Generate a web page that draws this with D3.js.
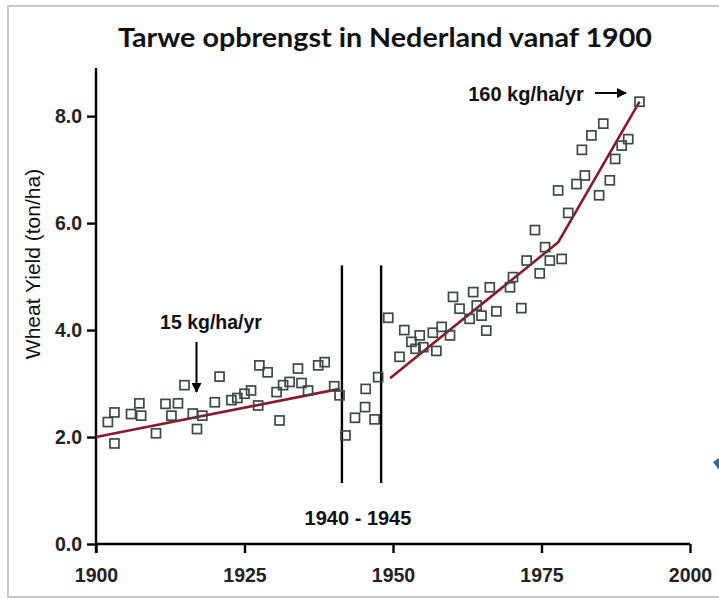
<!DOCTYPE html>
<html><head><meta charset="utf-8">
<script src="https://cdn.jsdelivr.net/npm/d3@7"></script>
<style>
html,body{margin:0;padding:0;background:#fff;}
svg{display:block;}
</style></head>
<body>
<svg id="chart" width="719" height="599"></svg>
<script>
// ---- data ----
const years = [1902.0,1903.1,1903.1,1905.9,1907.3,1907.6,1910.1,1911.7,1912.7,1913.8,1914.9,1916.3,1917.0,1917.9,1920.0,1920.8,1922.8,1923.8,1925.0,1926.1,1927.3,1927.5,1928.9,1930.4,1930.9,1931.5,1932.6,1934.0,1934.6,1935.7,1937.4,1938.5,1940.1,1941.0,1942.0,1943.6,1945.3,1945.4,1946.9,1947.5,1949.2,
1951.1,1951.9,1953.1,1954.5,1955.1,1953.8,1956.7,1957.3,1958.2,1959.6,1960.1,1961.2,1962.9,1963.5,1964.1,1964.9,1965.7,1966.3,1967.4,1969.7,1970.2,1971.6,1972.5,1974.7,1975.6,1976.4,1978.4,1973.9,1979.5,1977.8,1980.9,1982.3,1981.8,1983.4,1985.4,1984.7,1986.5,1987.4,1988.5,1989.6,1991.5];
const yields = [2.28,2.46,1.88,2.43,2.63,2.40,2.07,2.62,2.40,2.63,2.97,2.44,2.15,2.40,2.65,3.13,2.69,2.73,2.81,2.87,2.59,3.34,3.21,2.84,2.31,2.97,3.03,3.28,3.01,2.87,3.34,3.40,2.95,2.78,2.03,2.36,2.56,2.90,2.33,3.12,4.23,
3.50,4.00,3.78,3.90,3.68,3.65,3.95,3.61,4.06,3.90,4.62,4.40,4.21,4.71,4.46,4.27,3.99,4.80,4.35,4.80,4.99,4.41,5.30,5.06,5.55,5.30,5.33,5.87,6.19,6.61,6.73,6.89,7.37,7.64,7.86,6.52,6.80,7.20,7.45,7.57,8.27];
const trend1Years = [1900, 1941.0];
const trend1Values = [2.0, 2.9];
const trend2Years = [1949.5, 1977.8, 1991.5];
const trend2Values = [3.1, 5.64, 8.27];
const warYears = [1941.4, 1948.0];
const warRange = [1.14, 5.21];
const xTicks = [1900, 1925, 1950, 1975, 2000];
const yTicks = [0, 2, 4, 6, 8];
const title = "Tarwe opbrengst in Nederland vanaf 1900";
const yTitle = "Wheat Yield (ton/ha)";

// ---- drawing ----
const svg = d3.select("#chart");
// frame
svg.append("rect").attr("x",8).attr("y",6).attr("width",740).attr("height",591)
  .attr("fill","none").attr("stroke","#c9c9c9").attr("stroke-width",2);

const x = d3.scaleLinear().domain([1900,2000]).range([96,690]);
const y = d3.scaleLinear().domain([0,8.9]).range([544,68]);

const numFont = "'Liberation Sans', Arial, sans-serif";

// title
const t = svg.append("text").attr("x",385).attr("y",47).attr("text-anchor","middle")
  .attr("font-family","Lato, 'Open Sans', sans-serif").attr("font-weight",700)
  .attr("font-size",27).attr("fill","#111").text(title);
t.attr("textLength",534).attr("lengthAdjust","spacingAndGlyphs");

// y title
svg.append("text").attr("transform","translate(40,264) rotate(-90)")
  .attr("text-anchor","middle").attr("font-family",numFont).attr("font-size",21)
  .attr("fill","#111").text(yTitle);

// axes
const xAxis = d3.axisBottom(x).tickValues(xTicks).tickFormat(d3.format("d")).tickSize(9).tickPadding(15);
const yAxis = d3.axisLeft(y).tickValues(yTicks).tickFormat(d3.format(".1f")).tickSize(9).tickPadding(5);
const gx = svg.append("g").attr("transform","translate(0,544)").call(xAxis);
const gy = svg.append("g").attr("transform","translate(96,0)").call(yAxis);
[gx,gy].forEach(g=>{
  g.select(".domain").attr("stroke","#000").attr("stroke-width",2.4);
  g.selectAll(".tick line").attr("stroke","#000").attr("stroke-width",2.4);
  g.selectAll(".tick text").attr("font-family",numFont).attr("font-weight",700)
    .attr("font-size",19.5).attr("fill","#222");
});
gx.select(".domain").attr("d","M96,0H690");
gy.select(".domain").attr("d",`M0,${y(0)+9}V${y(8.9)}`);

// war lines
warYears.forEach(w=>{
  svg.append("line").attr("x1",x(w)).attr("x2",x(w)).attr("y1",y(warRange[0])).attr("y2",y(warRange[1]))
    .attr("stroke","#000").attr("stroke-width",2.4);
});

// trend lines
const line = d3.line().x(d=>x(d[0])).y(d=>y(d[1]));
svg.append("path").attr("d",line(trend1Years.map((v,i)=>[v,trend1Values[i]])))
  .attr("fill","none").attr("stroke","#8a1a2b").attr("stroke-width",2.6);
svg.append("path").attr("d",line(trend2Years.map((v,i)=>[v,trend2Values[i]])))
  .attr("fill","none").attr("stroke","#8a1a2b").attr("stroke-width",2.6);

// points
svg.append("g").selectAll("rect").data(years.map((v,i)=>[v,yields[i]])).join("rect")
  .attr("x",d=>x(d[0])-4.5).attr("y",d=>y(d[1])-4.5).attr("width",9).attr("height",9)
  .attr("fill","none").attr("stroke","#3b4a45").attr("stroke-width",1.7);

// arrows
const defs = svg.append("defs");
defs.append("marker").attr("id","ah").attr("viewBox","0 0 10 10").attr("refX",9).attr("refY",5)
  .attr("markerWidth",5).attr("markerHeight",5).attr("orient","auto")
  .append("path").attr("d","M0,0L10,5L0,10z").attr("fill","#000");

svg.append("text").attr("x",211).attr("y",329).attr("text-anchor","middle")
  .attr("font-family",numFont).attr("font-weight",700).attr("font-size",19.5).attr("fill","#111")
  .text("15 kg/ha/yr");
svg.append("line").attr("x1",196.5).attr("x2",196.5).attr("y1",342).attr("y2",392)
  .attr("stroke","#000").attr("stroke-width",2).attr("marker-end","url(#ah)");

svg.append("text").attr("x",526).attr("y",101).attr("text-anchor","middle")
  .attr("font-family",numFont).attr("font-weight",700).attr("font-size",20).attr("fill","#111")
  .text("160 kg/ha/yr");
svg.append("line").attr("x1",595).attr("x2",626).attr("y1",93).attr("y2",93)
  .attr("stroke","#000").attr("stroke-width",2).attr("marker-end","url(#ah)");

svg.append("text").attr("x",358).attr("y",525).attr("text-anchor","middle")
  .attr("font-family",numFont).attr("font-weight",700).attr("font-size",20).attr("fill","#111")
  .text("1940 - 1945");

// small blue mark at right edge
svg.append("path").attr("d","M713,462L719,458L719,470Z").attr("fill","#2e6da4");
</script>
</body></html>
